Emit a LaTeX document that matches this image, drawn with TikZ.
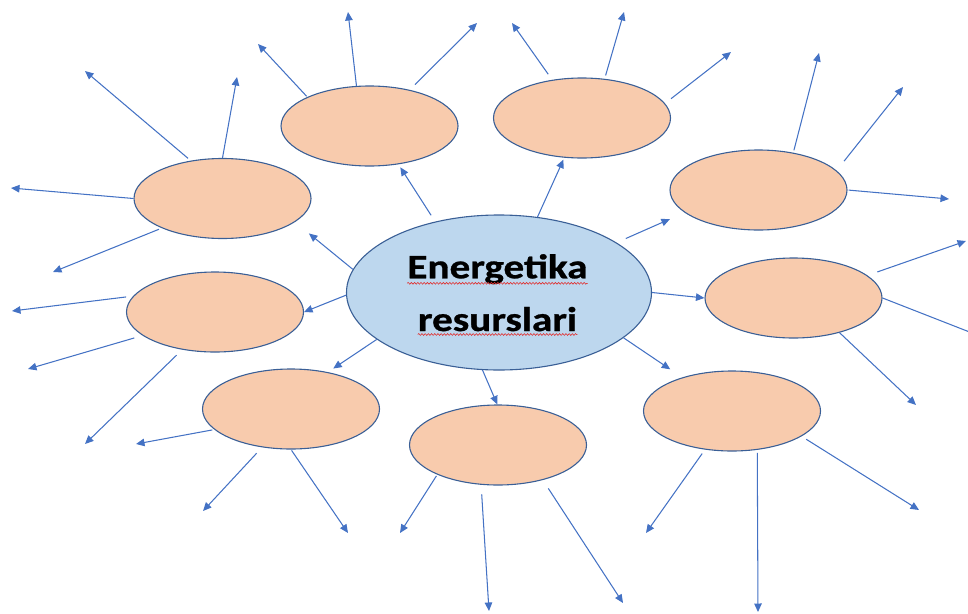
\documentclass[tikz,border=0pt]{standalone}
\usepackage{fontspec}
\setmainfont{Carlito}
\newfontfamily\titlefont[FakeBold=0.8]{Carlito Bold}
\usetikzlibrary{arrows.meta,shapes.geometric,decorations.pathmorphing}
\definecolor{arrblue}{HTML}{4472C4}
\definecolor{edgeblue}{HTML}{3A5F96}
\definecolor{peach}{HTML}{F8CBAD}
\definecolor{lightblue}{HTML}{BDD7EE}
\definecolor{spellred}{HTML}{E03030}
\tikzset{
  leaf/.style={ellipse, draw=edgeblue, fill=peach, line width=1.1pt,
    minimum width=177pt, minimum height=80pt, inner sep=0pt},
  hub/.style={ellipse, draw=edgeblue, fill=lightblue, line width=1.1pt,
    minimum width=305pt, minimum height=155pt, inner sep=0pt},
  arr/.style={draw=arrblue, line width=1.05pt, -{Triangle[length=8.5pt,width=7.5pt]}},
  titletext/.style={inner sep=0pt, font=\fontsize{34.3}{40}\selectfont\titlefont},
  wavy/.style={draw=spellred, line width=0.6pt, decorate,
    decoration={snake, amplitude=0.9pt, segment length=3.2pt}}
}
\begin{document}
\begin{tikzpicture}[x=1pt,y=-1pt]
\useasboundingbox (0,0) rectangle (968,613);
\clip (0,0) rectangle (968,613);

% nodes
\node[hub] (M) at (499,292.5) {};
\node[leaf] (A) at (369.5,126) {};
\node[leaf] (B) at (582,118) {};
\node[leaf] (C) at (758.5,190) {};
\node[leaf] (D) at (222.5,198.5) {};
\node[leaf] (E) at (215,312) {};
\node[leaf] (F) at (793.5,298) {};
\node[leaf] (G) at (291,409) {};
\node[leaf] (H) at (498,445) {};
\node[leaf] (I) at (732,411) {};

% title text
\node[titletext, anchor=base] (t1) at (497.5,278.3) {\scalebox{1.2}[1]{Energetika}};
\node[titletext, anchor=base] (t2) at (497.5,331) {\scalebox{1.2}[1]{resurslari}};
\draw[wavy] ([yshift=-5pt]t1.base west) -- ([yshift=-5pt]t1.base east);
\draw[wavy] ([yshift=-3.5pt]t2.base west) -- ([yshift=-3.5pt]t2.base east);

% hub to leaves
\draw[arr, shorten <=7.5pt, shorten >=3.5pt] (M.132.8) -- (A.-53.4);
\draw[arr, shorten >=2pt] (M.63.9) -- (B.-114.9);
\draw[arr, shorten <=10pt, shorten >=16pt] (M.23) -- (C.-163);
\draw[arr, shorten >=18pt] (M.171.5) -- (D.-18.4);
\draw[arr] (M.181) -- (E.0);
\draw[arr] (M.0) -- (F.180);
\draw[arr, shorten >=6.4pt] (M.-159) -- (G.45);
\draw[arr] (M.-102) -- (H.91);
\draw[arr, shorten >=14.4pt] (M.-20) -- (I.146.5);

% free ends
\coordinate (a1) at (258,44);  \coordinate (a2) at (348,12);  \coordinate (a3) at (477,23);
\coordinate (b1) at (512,23);  \coordinate (b2) at (624,12);  \coordinate (b3) at (731,52);
\coordinate (c1) at (819,53);  \coordinate (c2) at (903,87);  \coordinate (c3) at (949,199);
\coordinate (d1) at (85,71);   \coordinate (d2) at (237,77);  \coordinate (d3) at (11,188);
\coordinate (d4) at (53,272);
\coordinate (e1) at (12,311);  \coordinate (e2) at (28,369);  \coordinate (e3) at (85,444);
\coordinate (f1) at (966,241); \coordinate (f2) at (990,340); \coordinate (f3) at (916,405);
\coordinate (g1) at (136,444); \coordinate (g2) at (203,511); \coordinate (g3) at (348,533);
\coordinate (h1) at (400,533); \coordinate (h2) at (489,611); \coordinate (h3) at (623,603);
\coordinate (i1) at (646,533); \coordinate (i2) at (758,612); \coordinate (i3) at (919,510);

% leaves outward
\draw[arr, shorten <=1pt] (A.155.5) -- (a1);
\draw[arr] (A.108.6) -- (a2);
\draw[arr, shorten <=7.5pt] (A.42.7) -- (a3);
\draw[arr, shorten <=6.8pt] (B.128.3) -- (b1);
\draw[arr, shorten <=3.5pt] (B.60.3) -- (b2);
\draw[arr, shorten <=7.6pt] (B.10.8) -- (b3);
\draw[arr, shorten <=2.4pt] (C.47.7) -- (c1);
\draw[arr, shorten <=12pt] (C.14.6) -- (c2);
\draw[arr, shorten <=1pt] (C.0) -- (c3);
\draw[arr, shorten <=3.5pt] (D.130.4) -- (d1);
\draw[arr] (D.90) -- (d2);
\draw[arr] (D.180) -- (d3);
\draw[arr, shorten <=3pt] (D.-154.35) -- (d4);
\draw[arr, shorten <=7pt] (E.169.8) -- (e1);
\draw[arr, shorten <=8.6pt] (E.-162) -- (e2);
\draw[arr, shorten <=7.8pt] (E.-131.5) -- (e3);
\draw[arr, shorten <=10.4pt] (F.17.5) -- (f1);
\draw[arr] (F.0) -- (f2);
\draw[arr] (F.-37) -- (f3);
\draw[arr, shorten <=2pt] (G.-165.8) -- (g1);
\draw[arr, shorten <=8pt] (G.-127.7) -- (g2);
\draw[arr, shorten <=1pt] (G.-90) -- (g3);
\draw[arr, shorten <=1.5pt] (H.-154.2) -- (h1);
\draw[arr, shorten <=9.6pt] (H.-113.6) -- (h2);
\draw[arr, shorten <=10pt] (H.-38.25) -- (h3);
\draw[arr, shorten <=4.8pt] (I.-125.5) -- (i1);
\draw[arr, shorten <=3pt] (I.-57.6) -- (i2);
\draw[arr, shorten <=5.5pt] (I.-20) -- (i3);
\end{tikzpicture}
\end{document}
